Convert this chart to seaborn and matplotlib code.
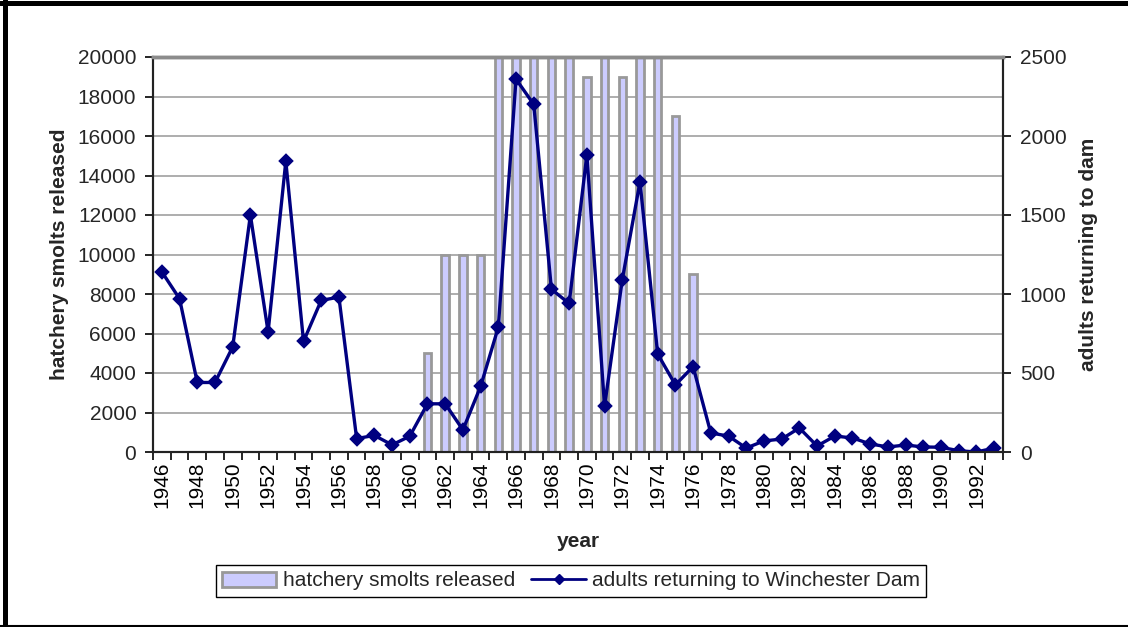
import numpy as np
import pandas as pd
import matplotlib
matplotlib.use("Agg")
import matplotlib.pyplot as plt
from matplotlib.lines import Line2D
from matplotlib.patches import Patch
import seaborn as sns

# Years on the category axis
years = list(range(1946, 1994))

# Hatchery smolts released (left axis)
smolt_years = list(range(1961, 1977))
smolts = [5000, 10000, 10000, 10000, 20000, 20000, 20000, 20000, 20000,
          19000, 20000, 19000, 20000, 20000, 17000, 9000]

# Adults returning to Winchester Dam (right axis)
adults = [1140, 970, 440, 440, 665, 1500, 760, 1840, 700, 960, 980, 85,
          105, 45, 100, 305, 305, 140, 415, 790, 2360, 2200, 1030, 940,
          1880, 290, 1090, 1710, 620, 425, 540, 120, 101, 25, 70, 82,
          152, 38, 101, 89, 51, 32, 44, 32, 30, 8, 0, 25]

bar_label = "hatchery smolts released"
line_label = "adults returning to Winchester Dam"

sns.set_theme(style="white")
plt.rcParams["font.family"] = ["Liberation Sans", "DejaVu Sans"]

FS = 15
BAR_FACE = "#CCCCFF"
BAR_EDGE = "#999999"
LINE_COL = "#000080"

order = [str(y) for y in years]
bars_df = pd.DataFrame({"year": [str(y) for y in smolt_years], "smolts": smolts})
line_df = pd.DataFrame({"year": order, "adults": adults})

fig = plt.figure(figsize=(11.28, 6.27), dpi=100)
ax = fig.add_axes([153 / 1128, 1 - 452 / 627, (1003 - 153) / 1128, (452 - 57) / 627])

sns.barplot(data=bars_df, x="year", y="smolts", order=order, ax=ax,
            color=BAR_FACE, edgecolor=BAR_EDGE, linewidth=2, width=0.42,
            saturation=1, errorbar=None)
for p in ax.patches:
    p.set_facecolor(BAR_FACE)

ax2 = ax.twinx()
sns.pointplot(data=line_df, x="year", y="adults", order=order, ax=ax2,
              color=LINE_COL, markers="D", markersize=6.5, linewidth=2.4,
              errorbar=None)

# Axis ranges
ax.set_ylim(0, 20000)
ax2.set_ylim(0, 2500)
ax.set_xlim(-0.5, len(years) - 0.5)
ax2.set_xlim(-0.5, len(years) - 0.5)

# Horizontal gridlines behind the bars
ax.set_axisbelow(True)
ax.yaxis.grid(True, color="#a0a0a0", linewidth=1.2)
ax.xaxis.grid(False)
ax2.grid(False)

ax.set_yticks(np.arange(0, 20001, 2000))
ax.set_yticklabels([str(v) for v in range(0, 20001, 2000)], fontsize=FS)
ax2.set_yticks(np.arange(0, 2501, 500))
ax2.set_yticklabels([str(v) for v in range(0, 2501, 500)], fontsize=FS)

# Labels centred on every second year, tick marks on category boundaries
ax.set_xticks(np.arange(0, len(years), 2))
ax.set_xticklabels([str(y) for y in years[::2]], rotation=90, fontsize=FS)
ax.set_xticks(np.arange(-0.5, len(years), 1), minor=True)
ax.tick_params(axis="x", which="major", length=0, pad=7, colors="black")
ax.tick_params(axis="x", which="minor", length=6, width=1.2, color="black", bottom=True)
ax.tick_params(axis="y", which="major", length=6, width=1.2, color="black", left=True, pad=6)
ax2.tick_params(axis="y", which="major", length=6, width=1.2, color="black", right=True, pad=6)

ax.set_xlabel("year", fontsize=FS, fontweight="bold", labelpad=17)
ax.set_ylabel("hatchery smolts released", fontsize=FS, fontweight="bold", labelpad=6)
ax2.set_ylabel("adults returning to dam", fontsize=FS, fontweight="bold", labelpad=9)
ax2.set_xlabel("")

for a in (ax, ax2):
    for side in ("left", "right", "bottom"):
        a.spines[side].set_color("#222222")
        a.spines[side].set_linewidth(1.5)
    a.spines["top"].set_color("#8c8c8c")
    a.spines["top"].set_linewidth(2.5)

# Legend below the plot
handles = [Patch(facecolor=BAR_FACE, edgecolor=BAR_EDGE, linewidth=2),
           Line2D([], [], color=LINE_COL, marker="D", markersize=5, linewidth=2)]
leg = fig.legend(handles, [bar_label, line_label], loc="center",
                 bbox_to_anchor=(571 / 1128, 1 - 581 / 627), ncol=2,
                 frameon=True, fancybox=False, framealpha=1, edgecolor="black",
                 fontsize=FS, handlelength=2.6, handletextpad=0.3,
                 columnspacing=0.8, borderpad=0.3)
leg.get_frame().set_linewidth(1)

# Outer border of the chart area
fig.add_artist(Line2D([0, 1], [1 - 2.5 / 627, 1 - 2.5 / 627], transform=fig.transFigure,
                      color="black", linewidth=3.6))
fig.add_artist(Line2D([5 / 1128, 5 / 1128], [0, 1], transform=fig.transFigure,
                      color="black", linewidth=3.6))
fig.add_artist(Line2D([0, 1], [1 / 627, 1 / 627], transform=fig.transFigure,
                      color="black", linewidth=1.5))

fig.savefig("out.png", dpi=100)
